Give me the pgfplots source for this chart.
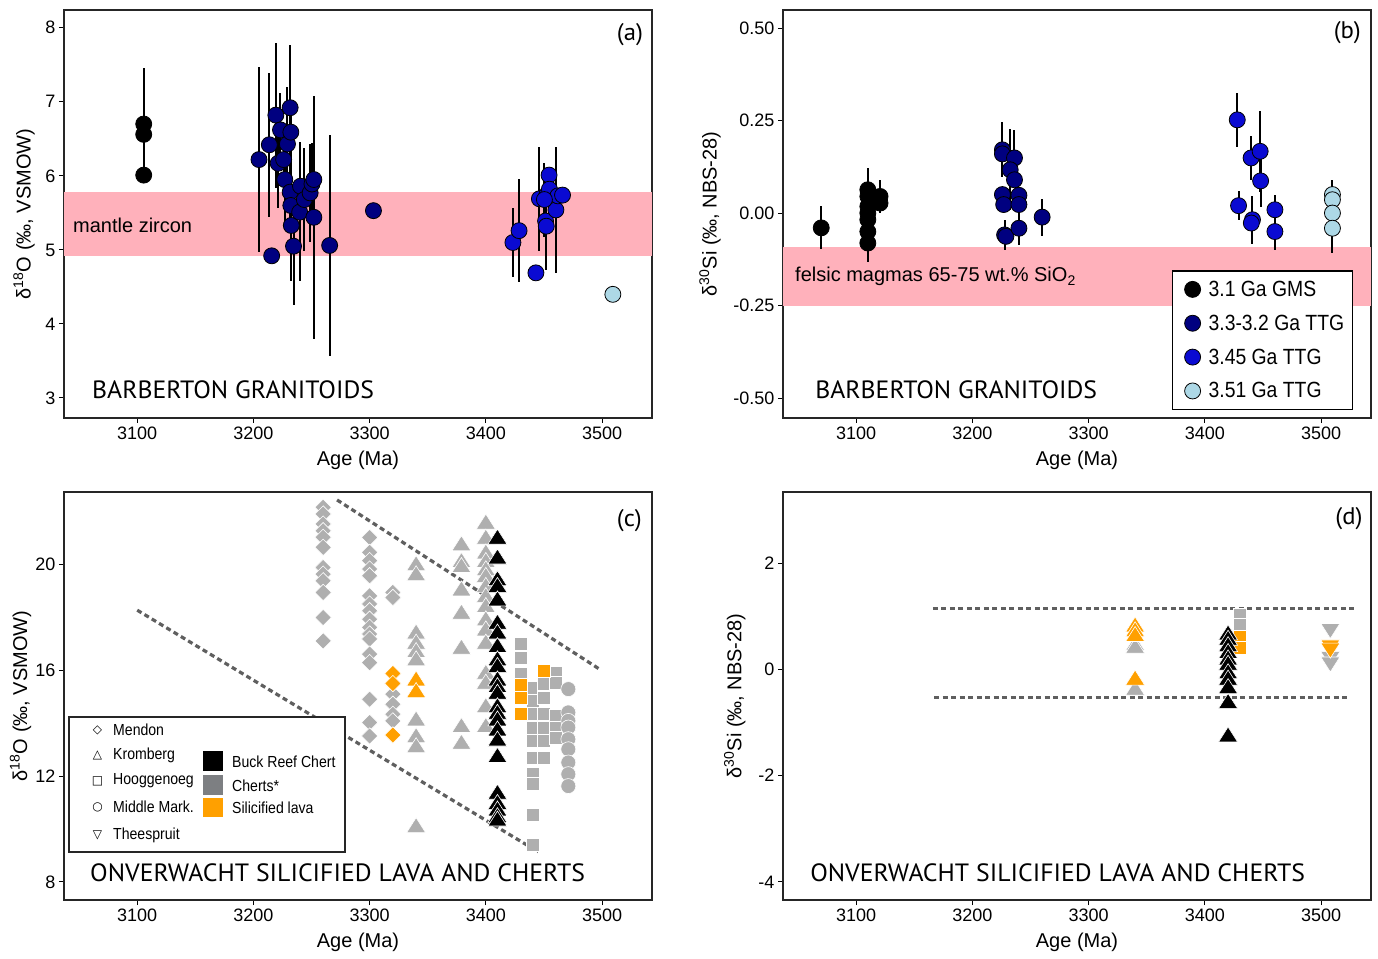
\documentclass[border=0pt]{standalone}
\usepackage{fontspec}
\setmainfont{Liberation Sans}
\newfontfamily\narrow{Liberation Sans}[FakeStretch=0.88]
\newfontfamily\myr{PT Sans}[FakeStretch=1.03]
\newfontfamily\sym{DejaVu Sans}
\usepackage{pgfplots}
\pgfplotsset{compat=1.18}

\definecolor{navyc}{RGB}{0,0,128}
\definecolor{bluec}{RGB}{10,10,210}
\definecolor{lbluec}{RGB}{173,216,230}
\definecolor{pinkband}{RGB}{255,177,187}
\definecolor{lgrey}{RGB}{175,175,175}
\definecolor{dgrey}{RGB}{125,127,130}
\definecolor{orangec}{RGB}{255,160,0}
\definecolor{dotc}{RGB}{95,95,95}

\pgfplotsset{
  panel/.style={
    scale only axis, width=588pt, height=408pt,
    xmin=3037, xmax=3543, xtick={3100,3200,3300,3400,3500},
    xticklabels={3100,3200,3300,3400,3500},
    tick align=outside, xtick pos=bottom, ytick pos=left,
    major tick length=5pt,
    every tick/.style={black, line width=1pt},
    axis line style={line width=1.3pt, black!85},
    tick label style={font=\fontsize{18}{20}\selectfont},
    label style={font=\fontsize{20}{24}\selectfont},
    xlabel={Age (Ma)},
    xlabel style={at={(axis description cs:0.5,-0.103)}, anchor=center},
  },
  ebar/.style={/pgfplots/error bars/y dir=both, /pgfplots/error bars/y explicit,
    /pgfplots/error bars/error mark=none,
    /pgfplots/error bars/error bar style={line width=2pt, black, solid}},
  circ/.style={only marks, mark=*, mark size=8pt, mark options={draw=black, line width=0.8pt, fill=#1}},
  dia/.style={only marks, mark=square*, mark size=5.8pt, mark options={rotate=45, draw=white, line width=0.6pt, fill=#1}},
  tri/.style={only marks, mark=triangle*, mark size=10pt, mark options={xscale=1.1, draw=white, line width=0.6pt, fill=#1}},
  itri/.style={only marks, mark=triangle*, mark size=10pt, mark options={rotate=180, xscale=1.1, draw=white, line width=0.6pt, fill=#1}},
  sqr/.style={only marks, mark=square*, mark size=6.5pt, mark options={draw=white, line width=0.6pt, fill=#1}},
  ocirc/.style={only marks, mark=*, mark size=7.5pt, mark options={draw=white, line width=0.6pt, fill=#1}},
  dotl/.style={dotc, line width=3.2pt, dash pattern=on 5pt off 3.5pt, mark=none},
}

\begin{document}
\begin{tikzpicture}[x=1pt,y=1pt]
\useasboundingbox (0,0) rectangle (1378,958);

%% ---------------- (a) ----------------
\begin{axis}[panel, at={(64pt,540pt)}, anchor=south west,
  ymin=2.73, ymax=8.24, ytick={3,4,5,6,7,8}, yticklabels={3,4,5,6,7,8},
  ylabel={δ\textsuperscript{18}O (‰, VSMOW)},
  ylabel style={at={(axis description cs:-0.068,0.5)}, anchor=center}]
\fill[pinkband] (axis cs:3037,4.92) rectangle (axis cs:3543,5.78);
\addplot[circ=black, ebar, forget plot] table[x=x,y=y,y error=e] {
x y e
3105.6 6.70 0.75
3105.6 6.56 0
3105.6 6.01 0
};
\addplot[circ=navyc, ebar, forget plot] table[x=x,y=y,y error=e] {
x y e
3204.8 6.22 1.25
3213.7 6.42 0.97
3215.7 4.92 0
3219.3 6.82 0.98
3221.3 6.17 0.6
3223.3 6.62 0.5
3226.0 6.22 0.5
3227.0 5.95 0.6
3229.3 6.43 0.77
3231.6 6.92 0.85
3232.2 6.59 0.4
3231.6 5.78 0.5
3232.2 5.60 0.6
3232.6 5.33 0.75
3234.5 5.05 0.8
3240.5 5.86 0.6
3239.8 5.51 0.93
3243.8 5.68 0.7
3248.8 5.77 0.66
3250.4 5.89 0.56
3252.0 5.95 0.6
3252.0 5.44 1.64
3265.6 5.06 1.49
3303.3 5.53 0
};
\addplot[circ=bluec, ebar, forget plot] table[x=x,y=y,y error=e] {
x y e
3423.3 5.10 0.47
3428.6 5.26 0.70
3443.1 4.69 0
3446.1 5.69 0.70
3451.4 5.39 0.66
3452.0 5.32 0
3454.4 6.01 0
3452.7 5.75 0
3454.7 5.82 0
3460.3 5.54 0.85
3462.0 5.73 0
3466.0 5.74 0
3450.4 5.68 0.5
};
\addplot[circ=lbluec, forget plot] coordinates {(3509.3,4.40)};
\node[anchor=west, inner sep=0pt, font=\fontsize{20}{24}\selectfont] at (rel axis cs:0.0153,0.473) {mantle zircon};
\node[anchor=west, inner sep=0pt, font=\myr\fontsize{25}{28}\selectfont] at (rel axis cs:0.0476,0.0686) {BARBERTON GRANITOIDS};
\node[anchor=east, inner sep=0pt, font=\myr\fontsize{24}{28}\selectfont] at (rel axis cs:0.985,0.939) {(a)};
\end{axis}

%% ---------------- (b) ----------------
\begin{axis}[panel, at={(783pt,540pt)}, anchor=south west,
  ymin=-0.554, ymax=0.549, ytick={-0.5,-0.25,0,0.25,0.5},
  yticklabels={-0.50,-0.25,0.00,0.25,0.50},
  ylabel={δ\textsuperscript{30}Si (‰, NBS-28)},
  ylabel style={at={(axis description cs:-0.124,0.5)}, anchor=center},
  legend image code/.code={\path[draw=none, fill=none] (0pt,-6pt) rectangle (28pt,6pt); \draw[#1] plot coordinates {(14pt,0pt)};},
  legend style={at={(axis description cs:0.969,0.0196)}, anchor=south east,
    draw=black, line width=1.2pt, font=\narrow\fontsize{22}{24}\selectfont,
    row sep=13pt, inner ysep=8pt, inner xsep=6pt, cells={anchor=west}},
  legend cell align=left]
\fill[pinkband] (axis cs:3037,-0.25) rectangle (axis cs:3543,-0.092);
\addplot[circ=black, ebar, forget plot] table[x=x,y=y,y error=e] {
x y e
3069.9 -0.040 0.058
3110.0 0.063 0.059
3110.0 0.045 0
3110.0 0.018 0
3110.0 0.000 0
3110.0 -0.018 0
3110.0 -0.050 0
3110.0 -0.081 0.05
3120.5 0.045 0.045
3120.5 0.027 0
};
\addplot[circ=navyc, ebar, forget plot] table[x=x,y=y,y error=e] {
x y e
3225.8 0.171 0.074
3225.8 0.160 0
3225.8 0.050 0
3226.9 0.023 0
3227.7 -0.059 0.04
3228.8 -0.063 0
3236.2 0.149 0.075
3232.5 0.117 0.11
3236.2 0.090 0
3240.0 0.048 0
3240.0 0.023 0
3240.0 -0.041 0.045
3260.0 -0.011 0.05
};
\addplot[circ=bluec, ebar, forget plot] table[x=x,y=y,y error=e] {
x y e
3427.9 0.252 0.073
3429.0 0.020 0.04
3439.8 0.149 0.06
3441.0 -0.018 0.065
3440.0 -0.027 0
3447.6 0.167 0.11
3448.0 0.087 0.07
3460.3 0.009 0.04
3460.3 -0.050 0.05
};
\addplot[circ=lbluec, ebar, forget plot] table[x=x,y=y,y error=e] {
x y e
3509.8 0.050 0.04
3509.8 0.036 0
3509.8 0.000 0
3509.8 -0.041 0.068
};
\addlegendimage{circ=black}\addlegendentry{3.1 Ga GMS}
\addlegendimage{circ=navyc}\addlegendentry{3.3-3.2 Ga TTG}
\addlegendimage{circ=bluec}\addlegendentry{3.45 Ga TTG}
\addlegendimage{circ=lbluec}\addlegendentry{3.51 Ga TTG}
\node[anchor=west, inner sep=0pt, font=\fontsize{20}{24}\selectfont] at (rel axis cs:0.0204,0.346) {felsic magmas 65-75 wt.\% SiO\textsubscript{2}};
\node[anchor=west, inner sep=0pt, font=\myr\fontsize{25}{28}\selectfont] at (rel axis cs:0.0545,0.0686) {BARBERTON GRANITOIDS};
\node[anchor=east, inner sep=0pt, font=\myr\fontsize{24}{28}\selectfont] at (rel axis cs:0.983,0.944) {(b)};
\end{axis}

%% ---------------- (c) ----------------
\begin{axis}[panel, at={(64pt,58pt)}, anchor=south west,
  ymin=7.32, ymax=22.72, ytick={8,12,16,20}, yticklabels={8,12,16,20},
  ylabel={δ\textsuperscript{18}O (‰, VSMOW)},
  ylabel style={at={(axis description cs:-0.074,0.5)}, anchor=center}]
\addplot[dotl, forget plot] coordinates {(3272,22.42) (3499,16.0)};
\addplot[dotl, forget plot] coordinates {(3100,18.26) (3445,9.14)};
% Mendon grey
\addplot[dia=lgrey, forget plot] table {
x y
3260 22.14
3260 21.89
3260 21.51
3260 21.26
3260 21.01
3260 20.63
3260 19.87
3260 19.62
3260 19.37
3260 18.93
3260 17.98
3260 17.10
3300 21.00
3300 20.44
3300 20.13
3300 19.81
3300 19.56
3300 18.80
3300 18.49
3300 18.24
3300 17.92
3300 17.61
3300 17.36
3300 17.17
3300 16.60
3300 16.28
3300 14.90
3300 14.02
3300 13.51
3320 18.93
3320 18.74
3320 15.47
3320 15.09
3320 14.71
3320 14.33
3320 14.08
};
\addplot[dia=orangec, forget plot] table {
x y
3320 15.87
3320 15.49
3320 13.55
};
% Kromberg grey
\addplot[tri=lgrey, forget plot] table {
x y
3340 19.94
3340 19.56
3340 17.36
3340 16.98
3340 16.66
3340 16.35
3340 14.08
3340 13.45
3340 13.07
3340 10.05
3379 20.69
3379 20.06
3379 19.87
3379 18.99
3379 18.11
3379 16.79
3379 13.83
3379 13.20
3400 21.51
3400 20.94
3400 20.38
3400 20.06
3400 19.75
3400 19.50
3400 19.12
3400 18.74
3400 18.36
3400 17.86
3400 17.48
3400 16.98
3400 15.84
3400 15.47
3400 14.58
3400 13.83
};
\addplot[tri=orangec, forget plot] table {
x y
3340 15.59
3340 15.15
};
% Hooggenoeg grey squares
\addplot[sqr=lgrey, forget plot] table {
x y
3430 16.98
3430 16.47
3430 15.84
3440 15.34
3440 14.84
3440 14.33
3440 13.83
3440 13.32
3440 12.70
3440 12.07
3440 11.69
3440 10.55
3440 9.42
3450 15.47
3450 14.96
3450 14.33
3450 13.83
3450 13.32
3450 12.70
3460 15.91
3460 15.53
3460 14.27
3460 13.83
3460 13.45
};
\addplot[sqr=orangec, forget plot] table {
x y
3430 15.44
3430 14.96
3430 14.33
3450 15.97
};
% Middle Marker
\addplot[ocirc=lgrey, forget plot] table {
x y
3471 15.28
3471 14.40
3471 14.08
3471 13.83
3471 13.39
3471 13.01
3471 12.51
3471 12.07
3471 11.62
};
% Buck Reef Chert
\addplot[tri=black, forget plot] table {
x y
3410 20.94
3410 20.19
3410 19.37
3410 19.12
3410 18.61
3410 17.73
3410 17.36
3410 16.85
3410 16.35
3410 16.10
3410 15.59
3410 15.34
3410 15.09
3410 14.58
3410 14.33
3410 14.08
3410 13.70
3410 13.32
3410 12.70
3410 11.31
3410 10.93
3410 10.68
3410 10.43
3410 10.30
};
\node[anchor=west, inner sep=0pt, font=\myr\fontsize{25}{28}\selectfont] at (rel axis cs:0.0442,0.066) {ONVERWACHT SILICIFIED LAVA AND CHERTS};
\node[anchor=east, inner sep=0pt, font=\myr\fontsize{24}{28}\selectfont] at (rel axis cs:0.983,0.931) {(c)};
\end{axis}

%% ---------------- (d) ----------------
\begin{axis}[panel, at={(783pt,58pt)}, anchor=south west,
  ymin=-4.34, ymax=3.34, ytick={-4,-2,0,2}, yticklabels={-4,-2,0,2},
  ylabel={δ\textsuperscript{30}Si (‰, NBS-28)},
  ylabel style={at={(axis description cs:-0.082,0.5)}, anchor=center}]
\addplot[dotl, forget plot] coordinates {(3166,1.14) (3529,1.14)};
\addplot[dotl, forget plot] coordinates {(3167,-0.53) (3524,-0.53)};
\addplot[tri=lgrey, forget plot] table {
x y
3340 0.45
3340 0.40
3340 -0.39
};
\addplot[tri=orangec, forget plot] table {
x y
3340 0.80
3340 0.71
3340 0.62
3340 -0.20
};
\addplot[sqr=lgrey, forget plot] table {
x y
3430 1.03
3430 0.84
};
\addplot[sqr=orangec, forget plot] table {
x y
3430 0.62
3430 0.40
};
\addplot[itri=lgrey, forget plot] table {
x y
3508 0.77
3508 0.24
3508 0.14
};
\addplot[itri=orangec, forget plot] table {
x y
3508 0.46
3508 0.40
};
\addplot[tri=black, forget plot] table {
x y
3420 0.65
3420 0.55
3420 0.43
3420 0.30
3420 0.18
3420 0.08
3420 -0.08
3420 -0.20
3420 -0.36
3420 -0.64
3420 -1.27
};
\node[anchor=west, inner sep=0pt, font=\myr\fontsize{25}{28}\selectfont] at (rel axis cs:0.046,0.066) {ONVERWACHT SILICIFIED LAVA AND CHERTS};
\node[anchor=east, inner sep=0pt, font=\myr\fontsize{24}{28}\selectfont] at (rel axis cs:0.986,0.936) {(d)};
\end{axis}

%% legend of (c)
\fill[white] (69,106) rectangle (345,241);
\draw[line width=1.3pt, black!85] (69,106) rectangle (345,241);
\begin{scope}[every node/.style={font=\narrow\fontsize{16}{18}\selectfont}]
\node[font=\sym\fontsize{12}{14}\selectfont] at (97.5,228) {◇};
\node[font=\sym\fontsize{12}{14}\selectfont] at (97.5,203) {△};
\node[font=\sym\fontsize{12}{14}\selectfont] at (97.5,177) {□};
\node[font=\sym\fontsize{12}{14}\selectfont] at (97.5,151) {○};
\node[font=\sym\fontsize{12}{14}\selectfont] at (97.5,123) {▽};
\node[anchor=west, inner sep=0] at (113,228) {Mendon};
\node[anchor=west, inner sep=0] at (113,203) {Kromberg};
\node[anchor=west, inner sep=0] at (113,177) {Hooggenoeg};
\node[anchor=west, inner sep=0] at (113,151) {Middle Mark.};
\node[anchor=west, inner sep=0] at (113,123) {Theespruit};
\fill[black] (203,187) rectangle (223,207);
\fill[dgrey] (203,163) rectangle (223,183);
\fill[orangec] (203,141) rectangle (223,160);
\node[anchor=west, inner sep=0] at (232,196) {Buck Reef Chert};
\node[anchor=west, inner sep=0] at (232,172) {Cherts*};
\node[anchor=west, inner sep=0] at (232,150) {Silicified lava};
\end{scope}
\end{tikzpicture}
\end{document}
